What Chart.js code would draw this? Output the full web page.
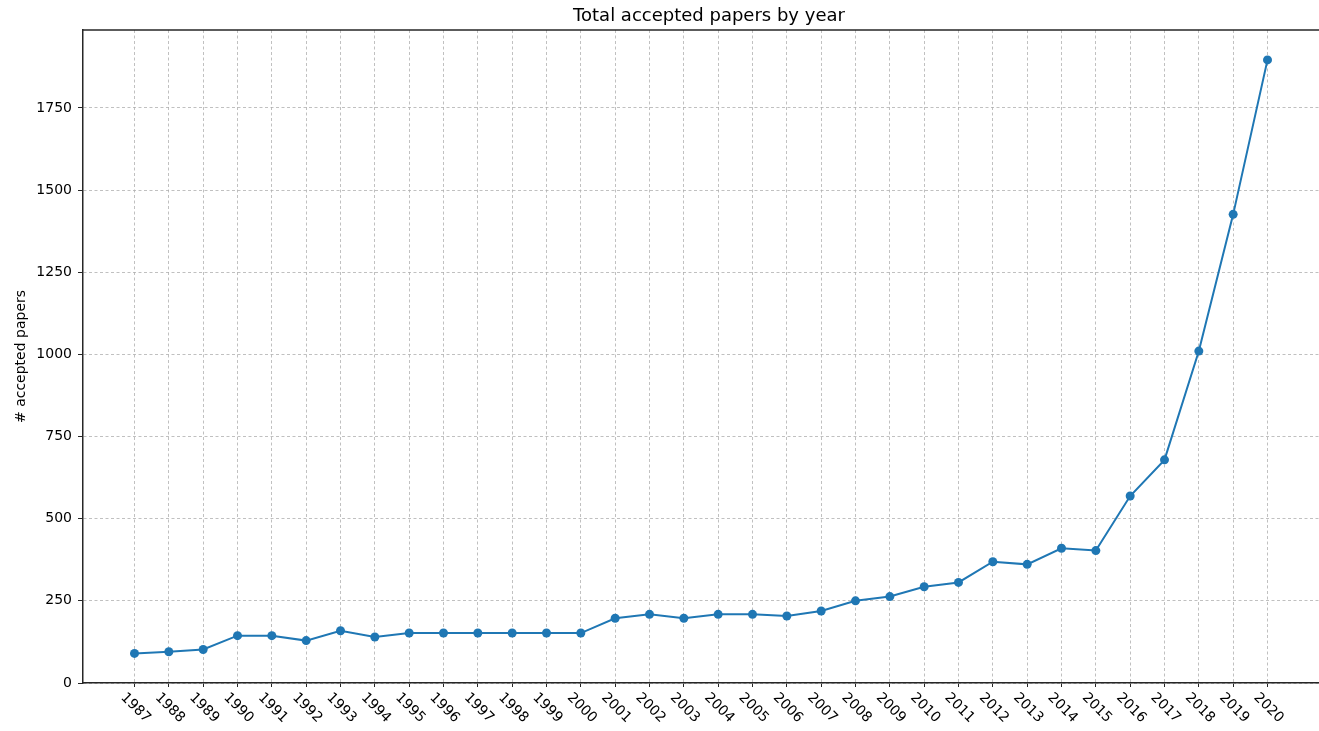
<!DOCTYPE html>
<html><head><meta charset="utf-8">
<script src="https://cdn.jsdelivr.net/npm/chart.js@4/dist/chart.umd.min.js"></script>
<style>html,body{margin:0;padding:0;background:#fff;overflow:hidden;}</style>
</head><body>
<canvas id="c" width="1319" height="731" style="display:block;width:1319px;height:731px"></canvas>
<script>
const years = [1987,1988,1989,1990,1991,1992,1993,1994,1995,1996,1997,1998,1999,2000,2001,2002,2003,2004,2005,2006,2007,2008,2009,2010,2011,2012,2013,2014,2015,2016,2017,2018,2019,2020];
const accepted = [90,95,102,144,144,129,159,140,152,152,152,152,152,152,197,209,197,209,209,204,219,250,263,293,306,369,361,410,403,569,679,1010,1426,1896];
const yTicks = [0,250,500,750,1000,1250,1500,1750];
const titleText = 'Total accepted papers by year';
const yLabel = '# accepted papers';

const FONT = 'DejaVu Sans';
const FRAME = '#262626';
const GRID = '#b0b0b0';

const decorPlugin = {
  id: 'decor',
  afterDraw(chart) {
    const {ctx, scales: {x}, chartArea} = chart;
    ctx.save();
    ctx.fillStyle = '#000';
    ctx.textAlign = 'center';
    ctx.textBaseline = 'middle';
    // title
    ctx.font = '18px "' + FONT + '"';
    ctx.fillText(titleText, 709, 16);
    // rotated year labels
    ctx.font = '14px "' + FONT + '"';
    years.forEach(v => {
      const px = x.getPixelForValue(v);
      ctx.save();
      ctx.translate(px + 1, chartArea.bottom + 25);
      ctx.rotate(Math.PI / 4);
      ctx.fillText(String(v), 0, 0);
      ctx.restore();
    });
    // top frame
    ctx.strokeStyle = FRAME;
    ctx.lineWidth = 1.5;
    ctx.beginPath();
    ctx.moveTo(chartArea.left, chartArea.top);
    ctx.lineTo(chartArea.right, chartArea.top);
    ctx.stroke();
    ctx.restore();
  }
};

new Chart(document.getElementById('c'), {
  type: 'line',
  data: {
    datasets: [{
      data: years.map((y, i) => ({x: y, y: accepted[i]})),
      borderColor: '#1f77b4',
      backgroundColor: '#1f77b4',
      borderWidth: 2,
      pointRadius: 4.5,
      pointBorderWidth: 0,
      pointBackgroundColor: '#1f77b4',
      tension: 0,
      clip: false
    }]
  },
  options: {
    responsive: false,
    animation: false,
    devicePixelRatio: 1,
    layout: {autoPadding: false, padding: {top: 30, right: 0, left: 0, bottom: 0}},
    plugins: {
      legend: {display: false},
      tooltip: {enabled: false},
      title: {display: false}
    },
    scales: {
      x: {
        type: 'linear',
        min: 1985.5,
        max: 2021.5,
        afterBuildTicks(s) { s.ticks = years.map(v => ({value: v})); },
        afterFit(s) { s.height = 48; },
        ticks: {display: false},
        grid: {color: GRID, lineWidth: 0.8, drawTicks: true, tickLength: 4, tickColor: FRAME, tickWidth: 1, tickBorderDash: []},
        border: {display: true, color: FRAME, width: 1.5, dash: [3, 2.5]}
      },
      y: {
        type: 'linear',
        min: 0,
        max: 1987,
        afterBuildTicks(s) { s.ticks = yTicks.map(v => ({value: v})); },
        afterFit(s) { s.width = 83; },
        ticks: {color: '#000', font: {family: FONT, size: 14}, padding: 6, callback: v => String(v)},
        grid: {color: GRID, lineWidth: 0.8, drawTicks: true, tickLength: 5, tickColor: FRAME, tickWidth: 1, tickBorderDash: []},
        border: {display: true, color: FRAME, width: 1.5, dash: [3, 2.5]},
        title: {display: true, text: yLabel, color: '#000', font: {family: FONT, size: 14}, padding: {top: 13, bottom: 0}}
      }
    }
  },
  plugins: [decorPlugin]
});
</script>
</body></html>
